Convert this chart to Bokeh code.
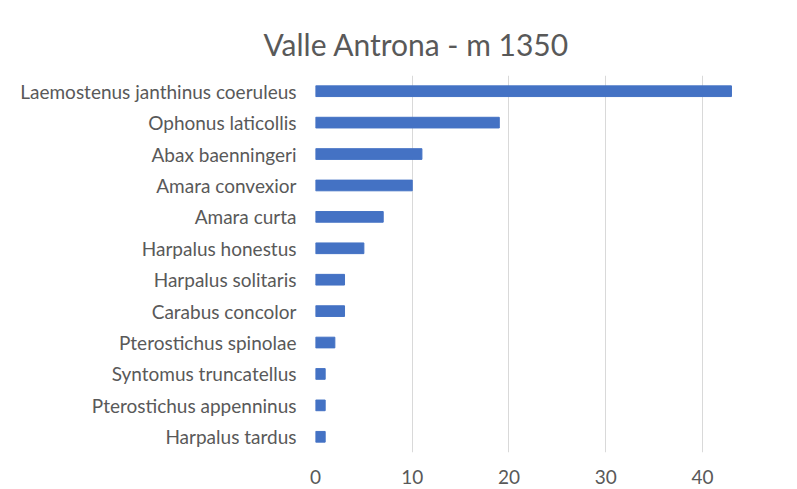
from bokeh.plotting import figure
from bokeh.models import Range1d, FactorRange, Title, FixedTicker
from bokeh.embed import file_html
from bokeh.resources import INLINE

species = [
    "Laemostenus janthinus coeruleus",
    "Ophonus laticollis",
    "Abax baenningeri",
    "Amara convexior",
    "Amara curta",
    "Harpalus honestus",
    "Harpalus solitaris",
    "Carabus concolor",
    "Pterostichus spinolae",
    "Syntomus truncatellus",
    "Pterostichus appenninus",
    "Harpalus tardus",
]
counts = [43, 19, 11, 10, 7, 5, 3, 3, 2, 1, 1, 1]
x_ticks = [0, 10, 20, 30, 40, 50]
title_text = "Valle Antrona - m 1350"

FONT = "Lato"
GRAY = "#595959"

p = figure(
    width=789, height=486,
    y_range=FactorRange(factors=list(reversed(species))),
    x_range=Range1d(0, 49),
    output_backend="svg", toolbar_location=None,
    min_border_left=315, min_border_right=0,
    min_border_top=75, min_border_bottom=33,
)
p.hbar(y=species, right=counts, height=0.34, color="#4472C4")

p.add_layout(Title(text=title_text, text_font=FONT, text_font_size="30px",
                   text_font_style="normal", text_color=GRAY,
                   align="left", offset=-52, standoff=28), "above")

p.outline_line_color = None
p.ygrid.grid_line_color = None
p.xgrid.grid_line_color = "#d9d9d9"
p.xgrid.grid_line_width = 1
p.xaxis.ticker = FixedTicker(ticks=x_ticks)

for ax in (p.xaxis[0], p.yaxis[0]):
    ax.axis_line_color = None
    ax.major_tick_line_color = None
    ax.minor_tick_line_color = None
    ax.major_label_text_font = FONT
    ax.major_label_text_font_size = "19px"
    ax.major_label_text_color = GRAY

p.yaxis.major_label_standoff = 13
p.xaxis.major_label_standoff = 11

open("out.html", "w").write(file_html(p, INLINE))
